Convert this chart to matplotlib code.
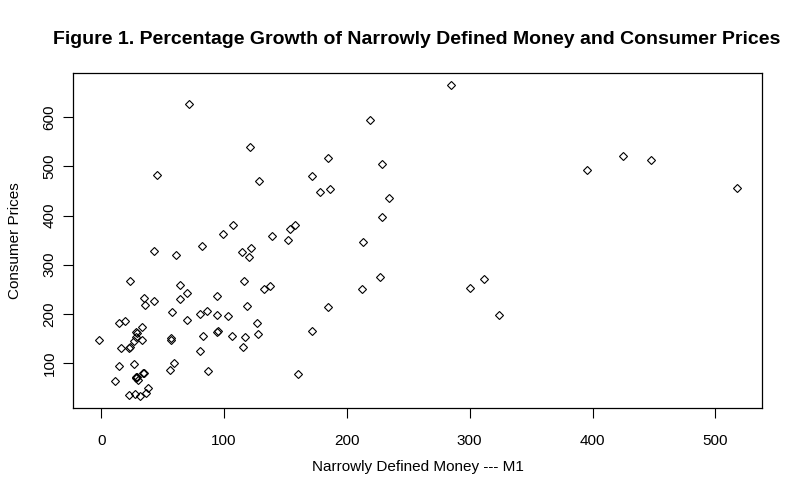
import matplotlib
matplotlib.use("Agg")
import matplotlib.pyplot as plt

plt.rcParams['font.family'] = ['Liberation Sans', 'DejaVu Sans']

m1 = [42.8, 60.5, 82.0, 114.4, 121.9, 120.3, 23.2, 63.8, 69.5, 63.8,
      34.7, 42.8, 35.5, 94.0, 116.0, 132.3, 137.8, 118.7, 57.5, 80.3,
      85.8, 94.0, 103.2, 69.5, 14.3, 19.7, 32.8, 28.7, 29.2, 27.9,
      26.5, 33.0, -2.0, 56.7, 56.7, 83.2, 94.0, 95.3, 106.2, 116.8,
      126.8, 127.7, 15.7, 23.0, 23.8, 80.6, 115.2, 26.5, 14.8, 58.9,
      56.1, 86.6, 33.8, 34.7, 28.1, 27.9, 29.0, 29.8, 10.8, 37.9,
      36.7, 22.8, 27.2, 31.2, 71.4, 121.1, 45.0, 128.5, 107.0, 99.1,
      284.8, 218.8, 184.5, 228.5, 171.5, 178.0, 186.1, 234.3, 228.5, 153.5,
      157.6, 138.8, 151.9, 213.1, 226.9, 212.5, 184.5, 171.5, 160.0, 300.3,
      311.7, 324.0, 395.8, 425.1, 448.0, 517.3]
cpi = [327.0, 319.6, 337.3, 325.1, 334.7, 314.9, 266.5, 258.4, 242.0, 231.2,
       231.8, 225.7, 217.6, 235.9, 266.5, 249.6, 255.7, 215.5, 203.3, 199.2,
       205.3, 197.1, 195.1, 186.9, 182.2, 184.9, 174.1, 163.9, 161.2, 153.1,
       144.9, 146.1, 146.1, 151.6, 147.6, 154.3, 162.4, 165.9, 154.3, 152.2,
       180.8, 158.8, 129.8, 131.2, 131.8, 125.1, 131.8, 98.6, 93.1, 99.2,
       85.3, 84.3, 80.8, 80.8, 72.0, 69.4, 72.0, 66.5, 64.5, 48.6,
       40.0, 35.3, 37.8, 33.9, 625.7, 540.0, 482.9, 470.6, 380.8, 362.4,
       664.5, 595.1, 517.6, 505.3, 480.8, 448.2, 454.3, 435.9, 397.1, 372.7,
       380.8, 358.4, 350.2, 346.1, 274.7, 250.2, 213.5, 164.5, 78.8, 252.2,
       270.6, 197.1, 493.1, 521.6, 513.5, 456.3]

x_ticks = [0, 100, 200, 300, 400, 500]
y_ticks = [100, 200, 300, 400, 500, 600]

fig = plt.figure(figsize=(8, 5), dpi=100)
ax = fig.add_axes([0.0916, 0.184, 0.861, 0.67])
ax.plot(m1, cpi, linestyle='none', marker='D', markersize=4,
        markerfacecolor='none', markeredgecolor='black', markeredgewidth=0.8)

def r_lim(v):
    lo, hi = min(v), max(v)
    pad = (hi - lo) * 0.04
    return lo - pad, hi + pad

ax.set_xlim(*r_lim(m1))
ax.set_ylim(*r_lim(cpi))
ax.set_xticks(x_ticks)
ax.set_yticks(y_ticks)
ax.tick_params(direction='out', length=7, width=0.8, labelsize=11)
ax.tick_params(axis='x', pad=12)
ax.tick_params(axis='y', pad=5)
ax.set_yticklabels([str(t) for t in y_ticks], rotation=90, va='center')
for s in ax.spines.values():
    s.set_linewidth(0.9)

ax.set_xlabel('Narrowly Defined Money --- M1', fontsize=11, labelpad=8)
ax.set_ylabel('Consumer Prices', fontsize=11, labelpad=15)
fig.suptitle('Figure 1. Percentage Growth of Narrowly Defined Money and Consumer Prices',
             fontsize=14, fontweight='bold', x=0.521, y=0.937)

fig.savefig('out.png', dpi=100)
